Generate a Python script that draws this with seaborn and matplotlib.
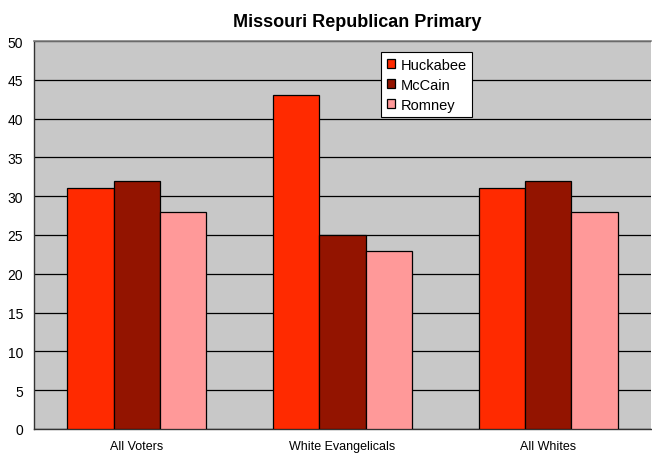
import pandas as pd
import matplotlib
matplotlib.use("Agg")
import matplotlib.pyplot as plt
import seaborn as sns
from matplotlib.ticker import FixedLocator

# Data
groups = ["All Voters", "White Evangelicals", "All Whites"]
candidates = ["Huckabee", "McCain", "Romney"]
huckabee = [31, 43, 31]
mccain = [32, 25, 32]
romney = [28, 23, 28]

df = pd.DataFrame({
    "Group": groups * 3,
    "Candidate": ["Huckabee"] * 3 + ["McCain"] * 3 + ["Romney"] * 3,
    "Value": huckabee + mccain + romney,
})

palette = {"Huckabee": "#FF2A00", "McCain": "#931400", "Romney": "#FF9999"}

sns.set_style("white")
plt.rcParams["font.family"] = ["Liberation Sans", "DejaVu Sans"]
plt.rcParams["text.color"] = "black"
plt.rcParams["xtick.color"] = "black"
plt.rcParams["ytick.color"] = "black"

fig = plt.figure(figsize=(6.52, 4.56), dpi=100)
ax = fig.add_axes([34 / 652, 26 / 456, 617 / 652, 388 / 456])
ax.set_facecolor("#C8C8C8")

sns.barplot(data=df, x="Group", y="Value", hue="Candidate", order=groups,
            hue_order=candidates, palette=palette, width=0.675, gap=0,
            edgecolor="black", linewidth=0.9, saturation=1, ax=ax, zorder=3)

ax.set_ylim(0, 50)
ax.set_xlim(-0.5, 2.5)
ax.set_yticks(range(0, 51, 5))
ax.yaxis.grid(True, color="black", linewidth=0.9, zorder=0)
ax.set_axisbelow(True)
ax.tick_params(axis="y", labelsize=10, length=4, width=0.8, color="#333333", pad=4)
ax.tick_params(axis="x", which="major", length=0, labelsize=9, pad=8)
ax.xaxis.set_minor_locator(FixedLocator([-0.5, 0.5, 1.5, 2.5]))
ax.tick_params(axis="x", which="minor", length=4, width=0.8, color="#333333")
ax.set_xlabel("")
ax.set_ylabel("")

for side in ["left", "bottom"]:
    ax.spines[side].set_color("#333333")
    ax.spines[side].set_linewidth(1.0)
ax.spines["top"].set_color("#808080")
ax.spines["top"].set_linewidth(1.2)
ax.spines["right"].set_visible(False)

ax.set_title("Missouri Republican Primary", fontsize=13, fontweight="bold",
             color="black", pad=11, x=(357 - 34) / 617)

leg = ax.legend(loc="upper left", bbox_to_anchor=(0.5624, 0.9716), fontsize=10.5,
                frameon=True, fancybox=False, edgecolor="black", framealpha=1,
                handlelength=0.6, handleheight=0.6, handletextpad=0.35,
                labelspacing=0.42, borderpad=0.38, borderaxespad=0, title=None)
leg.get_frame().set_linewidth(0.8)

fig.savefig("out.png", dpi=100)
